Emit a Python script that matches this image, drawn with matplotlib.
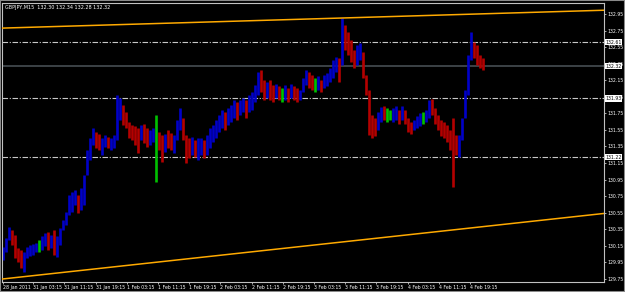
import numpy as np
import matplotlib.pyplot as plt
from matplotlib.patches import Rectangle

plt.rcParams['font.family'] = ['Liberation Sans Narrow', 'DejaVu Sans']

symbol = "GBPJPY,M15"
last_ohlc = [132.30, 132.34, 132.28, 132.32]

# price samples, about every 3 M15 bars
highs = [130.14, 130.24, 130.38, 130.34, 130.28, 130.12, 130.10, 130.08, 130.14, 130.16,
         130.17, 130.18, 130.22, 130.27, 130.31, 130.32, 130.28, 130.34, 130.27, 130.37,
         130.46, 130.56, 130.76, 130.80, 130.82, 130.76, 130.85, 131.01, 131.31, 131.45,
         131.57, 131.52, 131.50, 131.45, 131.49, 131.46, 131.45, 131.49, 131.97, 131.94,
         131.85, 131.77, 131.65, 131.61, 131.60, 131.57, 131.61, 131.62, 131.57, 131.55,
         131.57, 131.73, 131.52, 131.49, 131.50, 131.55, 131.51, 131.49, 131.67, 131.81,
         131.69, 131.49, 131.45, 131.46, 131.43, 131.45, 131.45, 131.43, 131.49, 131.57,
         131.61, 131.67, 131.73, 131.79, 131.77, 131.81, 131.85, 131.91, 131.89, 131.91,
         131.94, 131.91, 131.97, 132.01, 132.09, 132.25, 132.27, 132.15, 132.13, 132.15,
         132.09, 132.10, 132.08, 132.06, 132.09, 132.06, 132.10, 132.08, 132.06, 132.03,
         132.18, 132.27, 132.25, 132.21, 132.18, 132.20, 132.15, 132.21, 132.24, 132.30,
         132.39, 132.43, 132.42, 132.90, 132.82, 132.73, 132.64, 132.52, 132.58, 132.60,
         132.49, 132.21, 132.03, 131.73, 131.69, 131.77, 131.83, 131.84, 131.81, 131.79,
         131.81, 131.84, 131.79, 131.84, 131.79, 131.69, 131.65, 131.67, 131.72, 131.75,
         131.77, 131.79, 131.91, 131.92, 131.81, 131.73, 131.67, 131.65, 131.61, 131.55,
         131.69, 131.49, 131.49, 131.69, 132.03, 132.45, 132.73, 132.61, 132.58, 132.45,
         132.42]
lows = [129.98, 130.08, 130.22, 130.16, 130.00, 129.95, 129.88, 129.83, 130.00, 130.03,
        130.04, 130.08, 130.08, 130.10, 130.15, 130.10, 130.12, 130.04, 130.02, 130.16,
        130.34, 130.40, 130.52, 130.56, 130.64, 130.55, 130.58, 130.64, 131.01, 131.19,
        131.37, 131.33, 131.31, 131.25, 131.34, 131.33, 131.31, 131.33, 131.43, 131.67,
        131.61, 131.57, 131.45, 131.43, 131.37, 131.27, 131.43, 131.39, 131.34, 131.37,
        131.40, 130.92, 131.31, 131.16, 131.28, 131.33, 131.31, 131.27, 131.43, 131.55,
        131.43, 131.15, 131.21, 131.25, 131.22, 131.19, 131.25, 131.21, 131.25, 131.33,
        131.40, 131.45, 131.52, 131.57, 131.55, 131.61, 131.65, 131.69, 131.67, 131.73,
        131.77, 131.69, 131.77, 131.79, 131.89, 131.97, 132.01, 131.91, 131.94, 131.91,
        131.89, 131.94, 131.91, 131.89, 131.91, 131.89, 131.94, 131.91, 131.89, 131.91,
        132.01, 132.09, 132.06, 132.03, 132.01, 132.03, 132.01, 132.06, 132.08, 132.13,
        132.18, 132.25, 132.13, 132.33, 132.52, 132.45, 132.37, 132.30, 132.33, 132.39,
        132.18, 131.97, 131.49, 131.45, 131.48, 131.55, 131.65, 131.67, 131.65, 131.67,
        131.65, 131.67, 131.62, 131.67, 131.62, 131.52, 131.50, 131.55, 131.57, 131.60,
        131.62, 131.65, 131.69, 131.73, 131.62, 131.55, 131.48, 131.45, 131.40, 131.31,
        130.86, 131.25, 131.22, 131.43, 131.69, 131.97, 132.39, 132.42, 132.33, 132.30,
        132.27]
closes = [130.10, 130.22, 130.31, 130.24, 130.10, 130.00, 129.95, 130.04, 130.08, 130.10,
          130.12, 130.15, 130.16, 130.22, 130.24, 130.17, 130.22, 130.10, 130.22, 130.34,
          130.44, 130.52, 130.64, 130.70, 130.73, 130.64, 130.80, 130.97, 131.19, 131.37,
          131.45, 131.43, 131.37, 131.40, 131.43, 131.38, 131.40, 131.43, 131.61, 131.79,
          131.69, 131.67, 131.55, 131.52, 131.49, 131.43, 131.55, 131.49, 131.45, 131.48,
          131.50, 131.49, 131.43, 131.37, 131.43, 131.40, 131.37, 131.39, 131.61, 131.67,
          131.52, 131.37, 131.33, 131.37, 131.31, 131.33, 131.36, 131.31, 131.43, 131.52,
          131.55, 131.61, 131.67, 131.69, 131.67, 131.77, 131.79, 131.85, 131.79, 131.85,
          131.89, 131.81, 131.91, 131.94, 132.03, 132.15, 132.09, 132.03, 132.06, 132.01,
          131.97, 132.03, 131.98, 131.97, 132.01, 131.96, 132.03, 131.98, 131.95, 131.97,
          132.13, 132.21, 132.15, 132.09, 132.10, 132.13, 132.08, 132.15, 132.18, 132.25,
          132.33, 132.37, 132.32, 132.76, 132.70, 132.61, 132.54, 132.39, 132.49, 132.52,
          132.27, 132.06, 131.67, 131.61, 131.57, 131.69, 131.77, 131.74, 131.73, 131.72,
          131.74, 131.77, 131.73, 131.77, 131.69, 131.61, 131.57, 131.62, 131.67, 131.69,
          131.69, 131.73, 131.85, 131.81, 131.69, 131.61, 131.55, 131.52, 131.49, 131.43,
          131.37, 131.33, 131.37, 131.65, 131.97, 132.39, 132.58, 132.52, 132.45, 132.37,
          132.32]
first_open = 130.05

time_labels = ["28 Jan 2011", "31 Jan 03:15", "31 Jan 11:15", "31 Jan 19:15",
               "1 Feb 03:15", "1 Feb 11:15", "1 Feb 19:15", "2 Feb 03:15",
               "2 Feb 11:15", "2 Feb 19:15", "3 Feb 03:15", "3 Feb 11:15",
               "3 Feb 19:15", "4 Feb 03:15", "4 Feb 11:15", "4 Feb 19:15"]

levels = [132.61, 131.93, 131.22]
bid = 132.32
trend_bars = [0, 600]
upper_trend = [132.78, 132.99]
lower_trend = [129.75, 130.52]

highs = np.array(highs)
lows = np.array(lows)
closes = np.array(closes)
opens = np.concatenate([[first_open], closes[:-1]])
x = np.arange(len(closes)) * 3.08  # in M15 bars

diff = closes - opens
colors = np.where(np.abs(diff) < 0.011, '#00c000',
                  np.where(diff > 0, '#0000c8', '#b40000'))

W, H = 625, 292
fig = plt.figure(figsize=(W / 100, H / 100), dpi=100, facecolor='black')
ax = fig.add_axes([2 / W, 10 / H, 602 / W, 279 / H], facecolor='black')

# horizontal levels
for lv in levels:
    ax.axhline(lv, color='#c8c8c8', lw=0.8, ls=(0, (5, 1.5, 1, 1.5)), zorder=1)
ax.axhline(bid, color='#3c4246', lw=1.4, zorder=1)

ax.vlines(x, lows, highs, colors=colors, lw=1.9, zorder=2)

# trend lines
ax.axline((trend_bars[0], upper_trend[0]), (trend_bars[1], upper_trend[1]),
          color='#ffaa00', lw=1.1, zorder=3)
ax.axline((trend_bars[0], lower_trend[0]), (trend_bars[1], lower_trend[1]),
          color='#ffaa00', lw=1.1, zorder=3)

ax.set_xlim(-1.03, 616.4)
ax.set_ylim(129.713, 133.083)

tick_bars = [0] + [31 + 32 * k for k in range(len(time_labels) - 1)]
ax.set_xticks(tick_bars)
ax.set_xticklabels(time_labels, ha='left')
ax.set_yticks(np.round(np.arange(129.75, 133.0, 0.2), 2))
ax.yaxis.tick_right()
ax.yaxis.set_major_formatter(plt.FormatStrFormatter('%.2f'))
ax.tick_params(colors='#c8c8c8', labelcolor='white', labelsize=3.3,
               length=1.6, width=0.6, pad=0.6)
for lab in ax.get_xticklabels():
    lab.set_x(lab.get_position()[0])
for s in ax.spines.values():
    s.set_color('#c0c0c0')
    s.set_linewidth(0.8)

# value boxes for the lines
for lv in levels + [bid]:
    ax.text(1.002, lv, f"{lv:.2f}", transform=ax.get_yaxis_transform(),
            ha='left', va='center', fontsize=3.3, color='black', zorder=5,
            bbox=dict(facecolor='white', edgecolor='none', pad=0.4), clip_on=False)

fig.text(5 / W, 1 - 8 / H, symbol + "  " + " ".join(f"{v:.2f}" for v in last_ohlc),
         color='white', fontsize=3.5, va='center', ha='left')

fig.patches.append(Rectangle((0, 0), 1, 1, transform=fig.transFigure, fill=False,
                             edgecolor='#8a8a8a', lw=1.5))

fig.savefig('out.png', dpi=100, facecolor='black')
